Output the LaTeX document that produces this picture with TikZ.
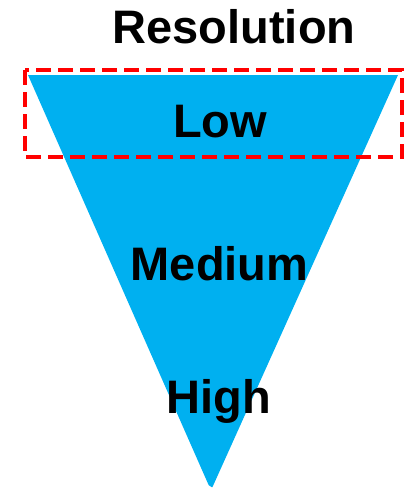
\documentclass[tikz,border=0pt]{standalone}
\usepackage{fontspec}
\setmainfont{Liberation Sans}
\begin{document}
\begin{tikzpicture}[x=1pt,y=-1pt,
  lbl/.style={anchor=base,inner sep=0pt,font=\bfseries\fontsize{47}{47}\selectfont},
  selbox/.style={draw=red,line width=4.5pt,dash pattern=on 15pt off 7pt}]
\definecolor{cyanfill}{HTML}{00B0F0}
\useasboundingbox (0,0) rectangle (405,490);
\fill[cyanfill] (28,75) -- (398,75) -- (212.5,487) [rounded corners=2pt] -- (209.5,487) [sharp corners] -- cycle;
\draw[selbox] (25,70) rectangle (402,157);
\node[lbl] (res) at (234,43) {Resolution};
\node[lbl] (low) at (220,137) {Low};
\node[lbl] (med) at (219.5,280) {Medium};
\node[lbl] (high) at (218.5,413) {High};
\end{tikzpicture}
\end{document}
